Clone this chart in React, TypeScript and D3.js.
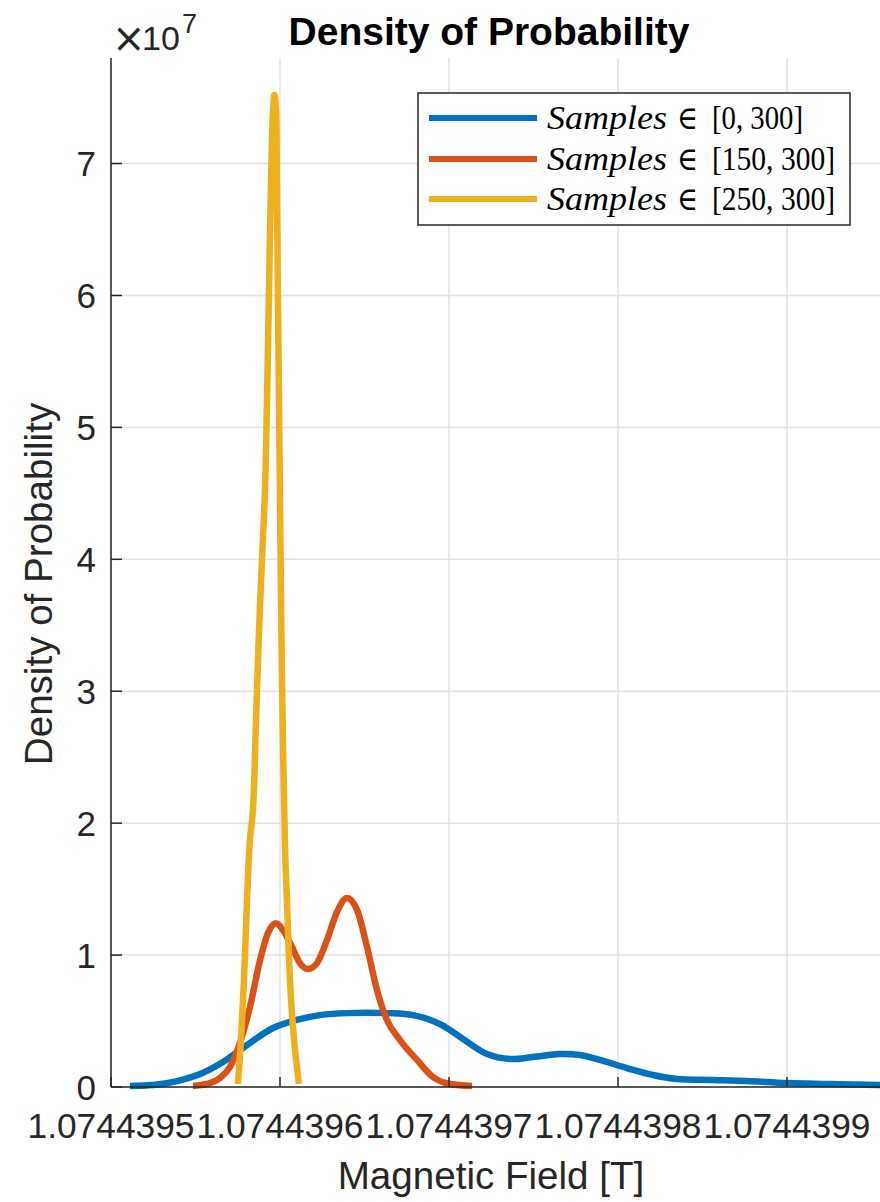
import React from "react";
import * as d3 from "d3";

// ---- data ----
const blueX = [
  1.0744395112, 1.0744395249, 1.0744395391, 1.0744395527, 1.0744395663, 1.0744395805,
  1.0744395959, 1.0744396118, 1.0744396237, 1.0744396396, 1.0744396633, 1.0744396787,
  1.0744396947, 1.0744397083, 1.0744397225, 1.0744397361, 1.0744397497, 1.0744397657,
  1.0744397775, 1.0744397893, 1.0744398053, 1.0744398207, 1.0744398349, 1.0744398562,
  1.0744398763, 1.0744399, 1.0744399254, 1.074439955, 1.074439975,
];
const blueY = [
  0.08e6, 0.15e6, 0.45e6, 0.98e6, 1.89e6, 3.18e6, 4.47e6, 5.15e6, 5.45e6, 5.6e6,
  5.6e6, 5.45e6, 4.77e6, 3.64e6, 2.5e6, 2.12e6, 2.27e6, 2.5e6, 2.42e6, 2.05e6,
  1.44e6, 0.91e6, 0.61e6, 0.53e6, 0.45e6, 0.3e6, 0.23e6, 0.15e6, 0.1e6,
];

const orangeX = [
  1.0744395485, 1.0744395568, 1.0744395645, 1.0744395704, 1.0744395763, 1.0744395822,
  1.0744395882, 1.0744395929, 1.0744395976, 1.0744396018, 1.0744396071, 1.0744396118,
  1.0744396166, 1.0744396219, 1.0744396278, 1.0744396337, 1.0744396396, 1.0744396456,
  1.0744396515, 1.0744396574, 1.0744396633, 1.074439671, 1.0744396811, 1.0744396905,
  1.0744397006, 1.0744397136,
];
const orangeY = [
  0.08e6, 0.23e6, 0.68e6, 1.52e6, 3.33e6, 6.06e6, 9.62e6, 11.67e6, 12.42e6, 11.89e6,
  10.61e6, 9.39e6, 8.94e6, 9.39e6, 11.14e6, 13.26e6, 14.32e6, 13.41e6, 10.61e6, 7.35e6,
  5.08e6, 3.56e6, 2.05e6, 0.76e6, 0.23e6, 0.08e6,
];

const yellowX = [
  1.0744395751, 1.0744395769, 1.0744395787, 1.0744395805, 1.0744395822, 1.074439584,
  1.0744395858, 1.0744395876, 1.0744395893, 1.0744395911, 1.0744395923, 1.0744395935,
  1.0744395947, 1.0744395959, 1.0744395967, 1.0744395976, 1.0744395982, 1.0744395988,
  1.0744395994, 1.0744396, 1.0744396006, 1.0744396018, 1.074439603, 1.0744396041,
  1.0744396059, 1.0744396083, 1.0744396112,
];
const yellowY = [
  0.23e6, 3.56e6, 8.11e6, 14.2e6, 18.7e6, 21.0e6, 27.8e6, 34.6e6, 39.9e6, 45.2e6,
  52.0e6, 60.5e6, 68.8e6, 74.1e6, 75.2e6, 74.1e6, 67.3e6, 59.7e6, 52.1e6, 44.5e6,
  37.0e6, 25.6e6, 18.0e6, 14.2e6, 8.1e6, 3.6e6, 0.23e6,
];

const xTicks = [1.0744395, 1.0744396, 1.0744397, 1.0744398, 1.0744399];
const xTickLabels = ["1.0744395", "1.0744396", "1.0744397", "1.0744398", "1.0744399"];
const yTicks = [0, 1e7, 2e7, 3e7, 4e7, 5e7, 6e7, 7e7];
const yTickLabels = ["0", "1", "2", "3", "4", "5", "6", "7"];

const seriesNames = ["[0, 300]", "[150, 300]", "[250, 300]"];
const seriesColors = ["#0072BD", "#D95319", "#EDB120"];

const xDomain = [1.0744395, 1.07443997];
const yDomain = [0, 7.8e7];

export default function App() {
  const W = 880, H = 1202;
  const left = 111, bottom = 1087, top = 58;
  const x = d3.scaleLinear().domain(xDomain).range([left, left + 4.7 * 169]);
  const y = d3.scaleLinear().domain(yDomain).range([bottom, top]);
  const right = x(xDomain[1]);

  const mk = (xs: number[], ys: number[], curve: any) =>
    d3.line<number>().x((_, i) => x(xs[i])).y((_, i) => y(ys[i])).curve(curve)(ys) || "";

  const series = [
    mk(blueX, blueY, d3.curveCatmullRom.alpha(0.5)),
    mk(orangeX, orangeY, d3.curveMonotoneX),
    mk(yellowX, yellowY, d3.curveCatmullRom.alpha(0.5)),
  ];

  const axisColor = "#262626";
  const gridColor = "#e3e3e3";
  const sans = "'Liberation Sans', Arial, Helvetica, sans-serif";
  const serif = "'Liberation Serif', 'Times New Roman', serif";

  const legRows = [118, 159, 199];
  const bracketLen = [91, 123, 123];

  return (
    <svg width={W} height={H} style={{ position: "absolute", left: 0, top: 0, background: "#fff" }}>
      <rect x={0} y={0} width={W} height={H} fill="#fff" />
      {/* grid */}
      {xTicks.map((t, i) => (
        <line key={"gx" + i} x1={x(t)} x2={x(t)} y1={top} y2={bottom} stroke={gridColor} strokeWidth={1.5} />
      ))}
      {yTicks.map((t, i) => (
        <line key={"gy" + i} x1={left} x2={right} y1={y(t)} y2={y(t)} stroke={gridColor} strokeWidth={1.5} />
      ))}
      {/* series */}
      {series.map((d, i) => (
        <path key={"s" + i} d={d} fill="none" stroke={seriesColors[i]} strokeWidth={6.5} strokeLinejoin="round" strokeLinecap="butt" />
      ))}
      {/* axes */}
      <line x1={left} x2={left} y1={top} y2={bottom} stroke={axisColor} strokeWidth={1.5} />
      <line x1={left} x2={right} y1={bottom} y2={bottom} stroke={axisColor} strokeWidth={1.5} />
      {xTicks.map((t, i) => (
        <g key={"xt" + i}>
          <line x1={x(t)} x2={x(t)} y1={bottom} y2={bottom - 10} stroke={axisColor} strokeWidth={1.5} />
          <text x={x(t)} y={1138} textAnchor="middle" fontFamily={sans} fontSize={35.5} fill={axisColor}
            textLength={167} lengthAdjust="spacingAndGlyphs">
            {xTickLabels[i]}
          </text>
        </g>
      ))}
      {yTicks.map((t, i) => (
        <g key={"yt" + i}>
          <line x1={left} x2={left + 11} y1={y(t)} y2={y(t)} stroke={axisColor} strokeWidth={1.5} />
          <text x={96} y={y(t) + 12.5} textAnchor="end" fontFamily={sans} fontSize={35} fill={axisColor}>
            {yTickLabels[i]}
          </text>
        </g>
      ))}
      {/* exponent */}
      <text x={112} y={52} fontFamily={"'DejaVu Sans', sans-serif"} fontSize={40} fill={axisColor}>×</text>
      <text x={142} y={50} fontFamily={sans} fontSize={34} fill={axisColor}>10</text>
      <text x={182} y={33} fontFamily={sans} fontSize={27} fill={axisColor}>7</text>
      {/* labels */}
      <text x={491} y={1189} textAnchor="middle" fontFamily={sans} fontSize={38.6} fill={axisColor}>
        Magnetic Field [T]
      </text>
      <text transform={`translate(52,584) rotate(-90)`} textAnchor="middle" fontFamily={sans} fontSize={38.6} fill={axisColor}>
        Density of Probability
      </text>
      <text x={489} y={45} textAnchor="middle" fontFamily={sans} fontSize={39} fontWeight="bold" fill="#000">
        Density of Probability
      </text>
      {/* legend */}
      <rect x={418} y={93} width={432} height={132} fill="#fff" stroke={axisColor} strokeWidth={1.5} />
      {seriesNames.map((nm, i) => (
        <g key={"lg" + i}>
          <line x1={429} x2={537} y1={legRows[i]} y2={legRows[i]} stroke={seriesColors[i]} strokeWidth={6} />
          <text x={547} y={legRows[i] + 11} fontFamily={serif} fontSize={33} fontStyle="italic" fill="#000"
            textLength={120} lengthAdjust="spacingAndGlyphs">
            Samples
          </text>
          <text x={677} y={legRows[i] + 11} fontFamily={"'DejaVu Serif', serif"} fontSize={33} fill="#000"
            textLength={21} lengthAdjust="spacingAndGlyphs">
            ∈
          </text>
          <text x={712} y={legRows[i] + 11} fontFamily={serif} fontSize={33} fill="#000"
            textLength={bracketLen[i]} lengthAdjust="spacingAndGlyphs">
            {nm}
          </text>
        </g>
      ))}
    </svg>
  );
}
